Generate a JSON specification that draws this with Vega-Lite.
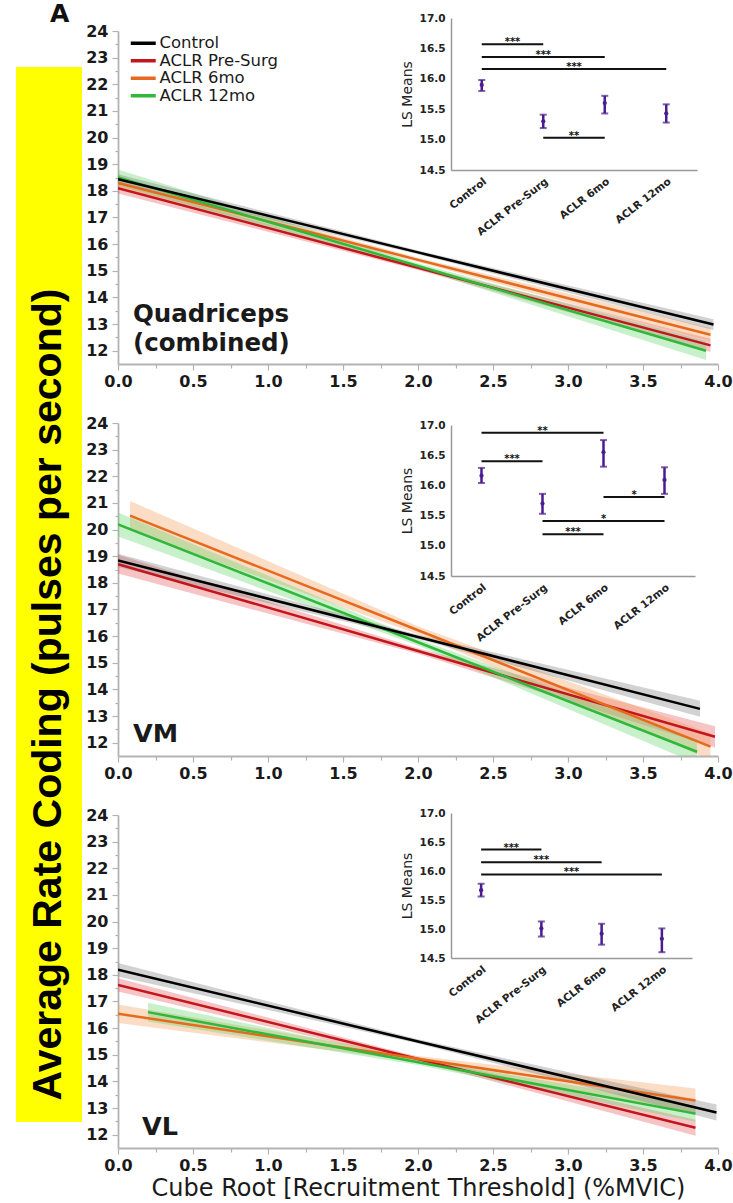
{
  "$schema": "https://vega.github.io/schema/vega-lite/v6.json",
  "background": "white",
  "padding": {"left": 16, "top": 2, "right": 0, "bottom": 0},
  "title": {"text": "A", "anchor": "start", "dx": 34, "offset": -14, "font": "DejaVu Sans", "fontWeight": "bold", "fontSize": 25, "color": "#111111"},
  "config": {"view": {"stroke": null}, "axis": {"grid": false}, "font": "DejaVu Sans"},
  "datasets": {
    "lines": [
      {"panel": "Quad", "group": "ACLR Pre-Surg", "x": 0, "y": 18.10, "lo": 17.90, "hi": 18.30},
      {"panel": "Quad", "group": "ACLR Pre-Surg", "x": 2.0, "y": 15.11, "lo": 15.03, "hi": 15.19},
      {"panel": "Quad", "group": "ACLR Pre-Surg", "x": 3.95, "y": 12.20, "lo": 11.95, "hi": 12.45},
      {"panel": "Quad", "group": "ACLR 6mo", "x": 0, "y": 18.30, "lo": 18.10, "hi": 18.50},
      {"panel": "Quad", "group": "ACLR 6mo", "x": 2.0, "y": 15.41, "lo": 15.33, "hi": 15.49},
      {"panel": "Quad", "group": "ACLR 6mo", "x": 3.95, "y": 12.60, "lo": 12.35, "hi": 12.85},
      {"panel": "Quad", "group": "ACLR 12mo", "x": 0, "y": 18.50, "lo": 18.20, "hi": 18.80},
      {"panel": "Quad", "group": "ACLR 12mo", "x": 2.0, "y": 15.18, "lo": 15.08, "hi": 15.28},
      {"panel": "Quad", "group": "ACLR 12mo", "x": 3.92, "y": 12.00, "lo": 11.65, "hi": 12.35},
      {"panel": "Quad", "group": "Control", "x": 0, "y": 18.44, "lo": 18.26, "hi": 18.62},
      {"panel": "Quad", "group": "Control", "x": 2.0, "y": 15.69, "lo": 15.62, "hi": 15.76},
      {"panel": "Quad", "group": "Control", "x": 3.97, "y": 12.98, "lo": 12.78, "hi": 13.18},

      {"panel": "VM", "group": "ACLR Pre-Surg", "x": 0, "y": 18.70, "lo": 18.35, "hi": 19.05},
      {"panel": "VM", "group": "ACLR Pre-Surg", "x": 2.0, "y": 15.44, "lo": 15.34, "hi": 15.54},
      {"panel": "VM", "group": "ACLR Pre-Surg", "x": 3.98, "y": 12.22, "lo": 11.82, "hi": 12.62},
      {"panel": "VM", "group": "ACLR 6mo", "x": 0.08, "y": 20.52, "lo": 19.97, "hi": 21.07},
      {"panel": "VM", "group": "ACLR 6mo", "x": 2.0, "y": 16.22, "lo": 16.07, "hi": 16.37},
      {"panel": "VM", "group": "ACLR 6mo", "x": 3.95, "y": 11.85, "lo": 11.35, "hi": 12.35},
      {"panel": "VM", "group": "ACLR 12mo", "x": 0, "y": 20.19, "lo": 19.74, "hi": 20.64},
      {"panel": "VM", "group": "ACLR 12mo", "x": 2.0, "y": 15.77, "lo": 15.65, "hi": 15.89},
      {"panel": "VM", "group": "ACLR 12mo", "x": 3.86, "y": 11.66, "lo": 11.21, "hi": 12.11},
      {"panel": "VM", "group": "Control", "x": 0, "y": 18.84, "lo": 18.59, "hi": 19.09},
      {"panel": "VM", "group": "Control", "x": 2.0, "y": 15.97, "lo": 15.89, "hi": 16.05},
      {"panel": "VM", "group": "Control", "x": 3.88, "y": 13.27, "lo": 12.97, "hi": 13.57},

      {"panel": "VL", "group": "ACLR Pre-Surg", "x": 0, "y": 17.62, "lo": 17.37, "hi": 17.87},
      {"panel": "VL", "group": "ACLR Pre-Surg", "x": 2.0, "y": 14.84, "lo": 14.76, "hi": 14.92},
      {"panel": "VL", "group": "ACLR Pre-Surg", "x": 3.85, "y": 12.26, "lo": 11.96, "hi": 12.56},
      {"panel": "VL", "group": "ACLR 6mo", "x": 0, "y": 16.54, "lo": 16.19, "hi": 16.89},
      {"panel": "VL", "group": "ACLR 6mo", "x": 2.0, "y": 14.85, "lo": 14.75, "hi": 14.95},
      {"panel": "VL", "group": "ACLR 6mo", "x": 3.85, "y": 13.28, "lo": 12.83, "hi": 13.73},
      {"panel": "VL", "group": "ACLR 12mo", "x": 0.2, "y": 16.60, "lo": 16.25, "hi": 16.95},
      {"panel": "VL", "group": "ACLR 12mo", "x": 2.0, "y": 14.72, "lo": 14.62, "hi": 14.82},
      {"panel": "VL", "group": "ACLR 12mo", "x": 3.85, "y": 12.79, "lo": 12.49, "hi": 13.09},
      {"panel": "VL", "group": "Control", "x": 0, "y": 18.19, "lo": 17.94, "hi": 18.44},
      {"panel": "VL", "group": "Control", "x": 2.0, "y": 15.50, "lo": 15.42, "hi": 15.58},
      {"panel": "VL", "group": "Control", "x": 3.99, "y": 12.83, "lo": 12.53, "hi": 13.13}
    ],
    "means": [
      {"panel": "Quad", "group": "Control", "idx": 0, "mean": 15.90, "lo": 15.80, "hi": 15.98},
      {"panel": "Quad", "group": "ACLR Pre-Surg", "idx": 1, "mean": 15.30, "lo": 15.19, "hi": 15.41},
      {"panel": "Quad", "group": "ACLR 6mo", "idx": 2, "mean": 15.60, "lo": 15.43, "hi": 15.72},
      {"panel": "Quad", "group": "ACLR 12mo", "idx": 3, "mean": 15.43, "lo": 15.28, "hi": 15.58},
      {"panel": "VM", "group": "Control", "idx": 0, "mean": 16.16, "lo": 16.04, "hi": 16.29},
      {"panel": "VM", "group": "ACLR Pre-Surg", "idx": 1, "mean": 15.70, "lo": 15.53, "hi": 15.86},
      {"panel": "VM", "group": "ACLR 6mo", "idx": 2, "mean": 16.55, "lo": 16.31, "hi": 16.75},
      {"panel": "VM", "group": "ACLR 12mo", "idx": 3, "mean": 16.09, "lo": 15.86, "hi": 16.30},
      {"panel": "VL", "group": "Control", "idx": 0, "mean": 15.67, "lo": 15.56, "hi": 15.78},
      {"panel": "VL", "group": "ACLR Pre-Surg", "idx": 1, "mean": 15.01, "lo": 14.87, "hi": 15.13},
      {"panel": "VL", "group": "ACLR 6mo", "idx": 2, "mean": 14.92, "lo": 14.73, "hi": 15.09},
      {"panel": "VL", "group": "ACLR 12mo", "idx": 3, "mean": 14.83, "lo": 14.60, "hi": 15.01}
    ],
    "sig": [
      {"panel": "Quad", "from": 0, "to": 1, "mid": 0.5, "h": 16.57, "stars": "***"},
      {"panel": "Quad", "from": 0, "to": 2, "mid": 1.0, "h": 16.36, "stars": "***"},
      {"panel": "Quad", "from": 0, "to": 3, "mid": 1.5, "h": 16.16, "stars": "***"},
      {"panel": "Quad", "from": 1, "to": 2, "mid": 1.5, "h": 15.03, "stars": "**"},
      {"panel": "VM", "from": 0, "to": 2, "mid": 1.0, "h": 16.87, "stars": "**"},
      {"panel": "VM", "from": 0, "to": 1, "mid": 0.5, "h": 16.40, "stars": "***"},
      {"panel": "VM", "from": 2, "to": 3, "mid": 2.5, "h": 15.81, "stars": "*"},
      {"panel": "VM", "from": 1, "to": 3, "mid": 2.0, "h": 15.41, "stars": "*"},
      {"panel": "VM", "from": 1, "to": 2, "mid": 1.5, "h": 15.19, "stars": "***"},
      {"panel": "VL", "from": 0, "to": 1, "mid": 0.5, "h": 16.37, "stars": "***"},
      {"panel": "VL", "from": 0, "to": 2, "mid": 1.0, "h": 16.15, "stars": "***"},
      {"panel": "VL", "from": 0, "to": 3, "mid": 1.5, "h": 15.94, "stars": "***"}
    ]
  },
  "bounds": "flush",
  "spacing": 102,
  "hconcat": [
    {
      "bounds": "flush",
      "spacing": 0,
      "vconcat": [
        {
          "width": 66, "height": 36,
          "data": {"values": [{"t": ""}]},
          "mark": {"type": "text"},
          "encoding": {"text": {"field": "t"}}
        },
        {
          "width": 66, "height": 1055,
          "view": {"fill": "#ffff00", "stroke": null},
          "data": {"values": [{"t": "Average Rate Coding (pulses per second)"}]},
          "mark": {"type": "text", "angle": 270, "font": "Liberation Sans", "fontWeight": "bold", "fontSize": 41, "color": "#000000", "dx": -100},
          "encoding": {"text": {"field": "t"}}
        }
      ]
    },
    {
      "bounds": "flush",
      "spacing": 59,
      "resolve": {"scale": {"stroke": "independent", "fill": "independent", "strokeWidth": "independent"}},
      "vconcat": [
        {
          "width": 600, "height": 333,
          "resolve": {"scale": {"x": "independent", "y": "independent"}},
          "layer": [
            {
              "layer": [
                {
                  "data": {"name": "lines"},
                  "transform": [{"filter": "datum.panel == 'Quad'"}],
                  "mark": {"type": "area", "clip": true, "opacity": 0.35},
                  "encoding": {
                    "x": {"field": "x", "type": "quantitative", "scale": {"domain": [0, 4], "nice": false, "zero": false},
                      "axis": {"values": [0,0.25,0.5,0.75,1,1.25,1.5,1.75,2,2.25,2.5,2.75,3,3.25,3.5,3.75,4], "tickCount": 100, "labelExpr": "datum.value % 0.5 == 0 ? format(datum.value, '.1f') : ''", "tickSize": {"condition": {"test": "datum.value % 0.5 != 0", "value": 4}, "value": 6}, "tickColor": "#b3b3b3", "tickWidth": 1.2, "domainColor": "#b3b3b3", "domainWidth": 1.8, "labelFont": "DejaVu Sans", "labelFontWeight": "bold", "labelFontSize": 16, "labelColor": "#1a1a1a", "labelPadding": 3, "labelFlush": false, "labelOverlap": false, "title": null}},
                    "y": {"field": "lo", "type": "quantitative", "scale": {"domain": [11.5, 24], "nice": false, "zero": false},
                      "axis": {"values": [12,12.5,13,13.5,14,14.5,15,15.5,16,16.5,17,17.5,18,18.5,19,19.5,20,20.5,21,21.5,22,22.5,23,23.5,24], "tickCount": 100, "labelExpr": "datum.value % 1 == 0 ? format(datum.value, 'd') : ''", "tickSize": {"condition": {"test": "datum.value % 1 != 0", "value": 3}, "value": 6}, "tickColor": "#b3b3b3", "tickWidth": 1.2, "domainColor": "#b3b3b3", "domainWidth": 1.8, "labelFont": "DejaVu Sans", "labelFontWeight": "bold", "labelFontSize": 16, "labelColor": "#1a1a1a", "labelPadding": 4, "labelOverlap": false, "title": null}},
                    "y2": {"field": "hi"},
                    "fill": {"field": "group", "type": "nominal", "scale": {"domain": ["ACLR 12mo", "ACLR 6mo", "ACLR Pre-Surg", "Control"], "range": ["#5fd46a", "#f39a55", "#e8555a", "#7f7f7f"]}, "legend": null}
                  }
                },
                {
                  "data": {"name": "lines"},
                  "transform": [{"filter": "datum.panel == 'Quad'"}],
                  "mark": {"type": "line", "clip": true},
                  "encoding": {
                    "x": {"field": "x", "type": "quantitative", "scale": {"domain": [0, 4], "nice": false, "zero": false}},
                    "y": {"field": "y", "type": "quantitative", "scale": {"domain": [11.5, 24], "nice": false, "zero": false}},
                    "stroke": {"field": "group", "type": "nominal", "scale": {"domain": ["Control", "ACLR Pre-Surg", "ACLR 6mo", "ACLR 12mo"], "range": ["#000000", "#c3161c", "#e66a1e", "#2fb83a"]},
                      "legend": {"orient": "none", "legendX": 17, "legendY": 4, "title": null, "symbolType": "M-2,0H2", "symbolSize": 156, "symbolStrokeWidth": 3.5, "labelFont": "DejaVu Sans", "labelFontSize": 16.5, "labelColor": "#1a1a1a", "rowPadding": 0.5, "padding": 0, "labelOffset": 8}},
                    "strokeWidth": {"field": "group", "type": "nominal", "scale": {"domain": ["ACLR Pre-Surg", "ACLR 6mo", "ACLR 12mo", "Control"], "range": [2.5, 2.5, 2.5, 4.5]}, "legend": null}
                  }
                },
                {
                  "data": {"values": [{"label": ["Quadriceps", "(combined)"]}]},
                  "mark": {"type": "text", "align": "left", "baseline": "alphabetic", "font": "DejaVu Sans", "fontWeight": "bold", "fontSize": 24.5, "lineHeight": 29, "color": "#1a1a1a"},
                  "encoding": {
                    "x": {"datum": 0.1, "type": "quantitative", "scale": {"domain": [0, 4], "nice": false, "zero": false}},
                    "y": {"datum": 13.08, "type": "quantitative", "scale": {"domain": [11.5, 24], "nice": false, "zero": false}},
                    "text": {"field": "label"}
                  }
                }
              ]
            },
            {
              "layer": [
                {
                  "data": {"name": "means"},
                  "transform": [{"filter": "datum.panel == 'Quad'"}],
                  "mark": {"type": "rule", "color": "#4b1c8f", "strokeWidth": 2.5},
                  "encoding": {
                    "x": {"field": "idx", "type": "quantitative", "scale": {"domain": [-0.5, 3.5], "range": [333, 579], "nice": false, "zero": false},
                      "axis": {"orient": "bottom", "offset": -194, "values": [0, 1, 2, 3], "tickCount": 100, "labelExpr": "['Control','ACLR Pre-Surg','ACLR 6mo','ACLR 12mo'][datum.value]", "labelAngle": -38, "labelFont": "DejaVu Sans", "labelFontWeight": "bold", "labelFontSize": 10.5, "labelColor": "#222222", "ticks": false, "labelPadding": 6, "domainColor": "#999999", "domainWidth": 1.5, "labelFlush": false, "labelOverlap": false, "title": null}},
                    "y": {"field": "lo", "type": "quantitative", "scale": {"domain": [14.5, 17], "range": [139, -13], "nice": false, "zero": false},
                      "axis": {"orient": "left", "offset": -333, "values": [14.5, 15, 15.5, 16, 16.5, 17], "tickCount": 100, "format": ".1f", "ticks": false, "labelPadding": 6, "labelFont": "DejaVu Sans", "labelFontWeight": "bold", "labelFontSize": 10.5, "labelColor": "#222222", "domainColor": "#999999", "domainWidth": 1.5, "labelOverlap": false, "title": "LS Means", "titleFont": "DejaVu Sans", "titleFontWeight": "normal", "titleFontSize": 14, "titleColor": "#222222", "titlePadding": 5}},
                    "y2": {"field": "hi"}
                  }
                },
                {
                  "data": {"name": "means"},
                  "transform": [{"filter": "datum.panel == 'Quad'"}],
                  "mark": {"type": "tick", "orient": "horizontal", "color": "#4b1c8f", "size": 7, "thickness": 2},
                  "encoding": {
                    "x": {"field": "idx", "type": "quantitative", "scale": {"domain": [-0.5, 3.5], "range": [333, 579], "nice": false, "zero": false}},
                    "y": {"field": "lo", "type": "quantitative", "scale": {"domain": [14.5, 17], "range": [139, -13], "nice": false, "zero": false}}
                  }
                },
                {
                  "data": {"name": "means"},
                  "transform": [{"filter": "datum.panel == 'Quad'"}],
                  "mark": {"type": "tick", "orient": "horizontal", "color": "#4b1c8f", "size": 7, "thickness": 2},
                  "encoding": {
                    "x": {"field": "idx", "type": "quantitative", "scale": {"domain": [-0.5, 3.5], "range": [333, 579], "nice": false, "zero": false}},
                    "y": {"field": "hi", "type": "quantitative", "scale": {"domain": [14.5, 17], "range": [139, -13], "nice": false, "zero": false}}
                  }
                },
                {
                  "data": {"name": "means"},
                  "transform": [{"filter": "datum.panel == 'Quad'"}],
                  "mark": {"type": "point", "filled": true, "size": 18, "color": "#4b1c8f", "opacity": 1},
                  "encoding": {
                    "x": {"field": "idx", "type": "quantitative", "scale": {"domain": [-0.5, 3.5], "range": [333, 579], "nice": false, "zero": false}},
                    "y": {"field": "mean", "type": "quantitative", "scale": {"domain": [14.5, 17], "range": [139, -13], "nice": false, "zero": false}}
                  }
                },
                {
                  "data": {"name": "sig"},
                  "transform": [{"filter": "datum.panel == 'Quad'"}],
                  "mark": {"type": "rule", "color": "#111111", "strokeWidth": 2},
                  "encoding": {
                    "x": {"field": "from", "type": "quantitative", "scale": {"domain": [-0.5, 3.5], "range": [333, 579], "nice": false, "zero": false}},
                    "x2": {"field": "to"},
                    "y": {"field": "h", "type": "quantitative", "scale": {"domain": [14.5, 17], "range": [139, -13], "nice": false, "zero": false}}
                  }
                },
                {
                  "data": {"name": "sig"},
                  "transform": [{"filter": "datum.panel == 'Quad'"}],
                  "mark": {"type": "text", "font": "DejaVu Sans", "fontWeight": "bold", "fontSize": 10, "baseline": "alphabetic", "dy": 1, "color": "#111111"},
                  "encoding": {
                    "x": {"field": "mid", "type": "quantitative", "scale": {"domain": [-0.5, 3.5], "range": [333, 579], "nice": false, "zero": false}},
                    "y": {"field": "h", "type": "quantitative", "scale": {"domain": [14.5, 17], "range": [139, -13], "nice": false, "zero": false}},
                    "text": {"field": "stars"}
                  }
                }
              ]
            }
          ]
        },
        {
          "width": 600, "height": 333,
          "resolve": {"scale": {"x": "independent", "y": "independent"}},
          "layer": [
            {
              "layer": [
                {
                  "data": {"name": "lines"},
                  "transform": [{"filter": "datum.panel == 'VM'"}],
                  "mark": {"type": "area", "clip": true, "opacity": 0.35},
                  "encoding": {
                    "x": {"field": "x", "type": "quantitative", "scale": {"domain": [0, 4], "nice": false, "zero": false},
                      "axis": {"values": [0,0.25,0.5,0.75,1,1.25,1.5,1.75,2,2.25,2.5,2.75,3,3.25,3.5,3.75,4], "tickCount": 100, "labelExpr": "datum.value % 0.5 == 0 ? format(datum.value, '.1f') : ''", "tickSize": {"condition": {"test": "datum.value % 0.5 != 0", "value": 4}, "value": 6}, "tickColor": "#b3b3b3", "tickWidth": 1.2, "domainColor": "#b3b3b3", "domainWidth": 1.8, "labelFont": "DejaVu Sans", "labelFontWeight": "bold", "labelFontSize": 16, "labelColor": "#1a1a1a", "labelPadding": 3, "labelFlush": false, "labelOverlap": false, "title": null}},
                    "y": {"field": "lo", "type": "quantitative", "scale": {"domain": [11.5, 24], "nice": false, "zero": false},
                      "axis": {"values": [12,12.5,13,13.5,14,14.5,15,15.5,16,16.5,17,17.5,18,18.5,19,19.5,20,20.5,21,21.5,22,22.5,23,23.5,24], "tickCount": 100, "labelExpr": "datum.value % 1 == 0 ? format(datum.value, 'd') : ''", "tickSize": {"condition": {"test": "datum.value % 1 != 0", "value": 3}, "value": 6}, "tickColor": "#b3b3b3", "tickWidth": 1.2, "domainColor": "#b3b3b3", "domainWidth": 1.8, "labelFont": "DejaVu Sans", "labelFontWeight": "bold", "labelFontSize": 16, "labelColor": "#1a1a1a", "labelPadding": 4, "labelOverlap": false, "title": null}},
                    "y2": {"field": "hi"},
                    "fill": {"field": "group", "type": "nominal", "scale": {"domain": ["ACLR 12mo", "ACLR 6mo", "ACLR Pre-Surg", "Control"], "range": ["#5fd46a", "#f39a55", "#e8555a", "#7f7f7f"]}, "legend": null}
                  }
                },
                {
                  "data": {"name": "lines"},
                  "transform": [{"filter": "datum.panel == 'VM'"}],
                  "mark": {"type": "line", "clip": true},
                  "encoding": {
                    "x": {"field": "x", "type": "quantitative", "scale": {"domain": [0, 4], "nice": false, "zero": false}},
                    "y": {"field": "y", "type": "quantitative", "scale": {"domain": [11.5, 24], "nice": false, "zero": false}},
                    "stroke": {"field": "group", "type": "nominal", "scale": {"domain": ["Control", "ACLR Pre-Surg", "ACLR 6mo", "ACLR 12mo"], "range": ["#000000", "#c3161c", "#e66a1e", "#2fb83a"]}, "legend": null},
                    "strokeWidth": {"field": "group", "type": "nominal", "scale": {"domain": ["ACLR Pre-Surg", "ACLR 6mo", "ACLR 12mo", "Control"], "range": [2.5, 2.5, 2.5, 4.5]}, "legend": null}
                  }
                },
                {
                  "data": {"values": [{"label": "VM"}]},
                  "mark": {"type": "text", "align": "left", "baseline": "alphabetic", "font": "DejaVu Sans", "fontWeight": "bold", "fontSize": 25.5, "color": "#1a1a1a"},
                  "encoding": {
                    "x": {"datum": 0.1, "type": "quantitative", "scale": {"domain": [0, 4], "nice": false, "zero": false}},
                    "y": {"datum": 12.03, "type": "quantitative", "scale": {"domain": [11.5, 24], "nice": false, "zero": false}},
                    "text": {"field": "label"}
                  }
                }
              ]
            },
            {
              "layer": [
                {
                  "data": {"name": "means"},
                  "transform": [{"filter": "datum.panel == 'VM'"}],
                  "mark": {"type": "rule", "color": "#4b1c8f", "strokeWidth": 2.5},
                  "encoding": {
                    "x": {"field": "idx", "type": "quantitative", "scale": {"domain": [-0.5, 3.5], "range": [333, 577], "nice": false, "zero": false},
                      "axis": {"orient": "bottom", "offset": -180, "values": [0, 1, 2, 3], "tickCount": 100, "labelExpr": "['Control','ACLR Pre-Surg','ACLR 6mo','ACLR 12mo'][datum.value]", "labelAngle": -38, "labelFont": "DejaVu Sans", "labelFontWeight": "bold", "labelFontSize": 10.5, "labelColor": "#222222", "ticks": false, "labelPadding": 6, "domainColor": "#999999", "domainWidth": 1.5, "labelFlush": false, "labelOverlap": false, "title": null}},
                    "y": {"field": "lo", "type": "quantitative", "scale": {"domain": [14.5, 17], "range": [153, 2], "nice": false, "zero": false},
                      "axis": {"orient": "left", "offset": -333, "values": [14.5, 15, 15.5, 16, 16.5, 17], "tickCount": 100, "format": ".1f", "ticks": false, "labelPadding": 6, "labelFont": "DejaVu Sans", "labelFontWeight": "bold", "labelFontSize": 10.5, "labelColor": "#222222", "domainColor": "#999999", "domainWidth": 1.5, "labelOverlap": false, "title": "LS Means", "titleFont": "DejaVu Sans", "titleFontWeight": "normal", "titleFontSize": 14, "titleColor": "#222222", "titlePadding": 5}},
                    "y2": {"field": "hi"}
                  }
                },
                {
                  "data": {"name": "means"},
                  "transform": [{"filter": "datum.panel == 'VM'"}],
                  "mark": {"type": "tick", "orient": "horizontal", "color": "#4b1c8f", "size": 7, "thickness": 2},
                  "encoding": {
                    "x": {"field": "idx", "type": "quantitative", "scale": {"domain": [-0.5, 3.5], "range": [333, 577], "nice": false, "zero": false}},
                    "y": {"field": "lo", "type": "quantitative", "scale": {"domain": [14.5, 17], "range": [153, 2], "nice": false, "zero": false}}
                  }
                },
                {
                  "data": {"name": "means"},
                  "transform": [{"filter": "datum.panel == 'VM'"}],
                  "mark": {"type": "tick", "orient": "horizontal", "color": "#4b1c8f", "size": 7, "thickness": 2},
                  "encoding": {
                    "x": {"field": "idx", "type": "quantitative", "scale": {"domain": [-0.5, 3.5], "range": [333, 577], "nice": false, "zero": false}},
                    "y": {"field": "hi", "type": "quantitative", "scale": {"domain": [14.5, 17], "range": [153, 2], "nice": false, "zero": false}}
                  }
                },
                {
                  "data": {"name": "means"},
                  "transform": [{"filter": "datum.panel == 'VM'"}],
                  "mark": {"type": "point", "filled": true, "size": 18, "color": "#4b1c8f", "opacity": 1},
                  "encoding": {
                    "x": {"field": "idx", "type": "quantitative", "scale": {"domain": [-0.5, 3.5], "range": [333, 577], "nice": false, "zero": false}},
                    "y": {"field": "mean", "type": "quantitative", "scale": {"domain": [14.5, 17], "range": [153, 2], "nice": false, "zero": false}}
                  }
                },
                {
                  "data": {"name": "sig"},
                  "transform": [{"filter": "datum.panel == 'VM'"}],
                  "mark": {"type": "rule", "color": "#111111", "strokeWidth": 2},
                  "encoding": {
                    "x": {"field": "from", "type": "quantitative", "scale": {"domain": [-0.5, 3.5], "range": [333, 577], "nice": false, "zero": false}},
                    "x2": {"field": "to"},
                    "y": {"field": "h", "type": "quantitative", "scale": {"domain": [14.5, 17], "range": [153, 2], "nice": false, "zero": false}}
                  }
                },
                {
                  "data": {"name": "sig"},
                  "transform": [{"filter": "datum.panel == 'VM'"}],
                  "mark": {"type": "text", "font": "DejaVu Sans", "fontWeight": "bold", "fontSize": 10, "baseline": "alphabetic", "dy": 1, "color": "#111111"},
                  "encoding": {
                    "x": {"field": "mid", "type": "quantitative", "scale": {"domain": [-0.5, 3.5], "range": [333, 577], "nice": false, "zero": false}},
                    "y": {"field": "h", "type": "quantitative", "scale": {"domain": [14.5, 17], "range": [153, 2], "nice": false, "zero": false}},
                    "text": {"field": "stars"}
                  }
                }
              ]
            }
          ]
        },
        {
          "width": 600, "height": 333,
          "resolve": {"scale": {"x": "independent", "y": "independent"}},
          "layer": [
            {
              "layer": [
                {
                  "data": {"name": "lines"},
                  "transform": [{"filter": "datum.panel == 'VL'"}],
                  "mark": {"type": "area", "clip": true, "opacity": 0.35},
                  "encoding": {
                    "x": {"field": "x", "type": "quantitative", "scale": {"domain": [0, 4], "nice": false, "zero": false},
                      "axis": {"values": [0,0.25,0.5,0.75,1,1.25,1.5,1.75,2,2.25,2.5,2.75,3,3.25,3.5,3.75,4], "tickCount": 100, "labelExpr": "datum.value % 0.5 == 0 ? format(datum.value, '.1f') : ''", "tickSize": {"condition": {"test": "datum.value % 0.5 != 0", "value": 4}, "value": 6}, "tickColor": "#b3b3b3", "tickWidth": 1.2, "domainColor": "#b3b3b3", "domainWidth": 1.8, "labelFont": "DejaVu Sans", "labelFontWeight": "bold", "labelFontSize": 16, "labelColor": "#1a1a1a", "labelPadding": 3, "labelFlush": false, "labelOverlap": false,
                        "title": "Cube Root [Recruitment Threshold] (%MVIC)", "titleFont": "DejaVu Sans", "titleFontWeight": "normal", "titleFontSize": 24, "titleColor": "#1a1a1a", "titlePadding": 3}},
                    "y": {"field": "lo", "type": "quantitative", "scale": {"domain": [11.5, 24], "nice": false, "zero": false},
                      "axis": {"values": [12,12.5,13,13.5,14,14.5,15,15.5,16,16.5,17,17.5,18,18.5,19,19.5,20,20.5,21,21.5,22,22.5,23,23.5,24], "tickCount": 100, "labelExpr": "datum.value % 1 == 0 ? format(datum.value, 'd') : ''", "tickSize": {"condition": {"test": "datum.value % 1 != 0", "value": 3}, "value": 6}, "tickColor": "#b3b3b3", "tickWidth": 1.2, "domainColor": "#b3b3b3", "domainWidth": 1.8, "labelFont": "DejaVu Sans", "labelFontWeight": "bold", "labelFontSize": 16, "labelColor": "#1a1a1a", "labelPadding": 4, "labelOverlap": false, "title": null}},
                    "y2": {"field": "hi"},
                    "fill": {"field": "group", "type": "nominal", "scale": {"domain": ["ACLR 12mo", "ACLR 6mo", "ACLR Pre-Surg", "Control"], "range": ["#5fd46a", "#f39a55", "#e8555a", "#7f7f7f"]}, "legend": null}
                  }
                },
                {
                  "data": {"name": "lines"},
                  "transform": [{"filter": "datum.panel == 'VL'"}],
                  "mark": {"type": "line", "clip": true},
                  "encoding": {
                    "x": {"field": "x", "type": "quantitative", "scale": {"domain": [0, 4], "nice": false, "zero": false}},
                    "y": {"field": "y", "type": "quantitative", "scale": {"domain": [11.5, 24], "nice": false, "zero": false}},
                    "stroke": {"field": "group", "type": "nominal", "scale": {"domain": ["Control", "ACLR Pre-Surg", "ACLR 6mo", "ACLR 12mo"], "range": ["#000000", "#c3161c", "#e66a1e", "#2fb83a"]}, "legend": null},
                    "strokeWidth": {"field": "group", "type": "nominal", "scale": {"domain": ["ACLR Pre-Surg", "ACLR 6mo", "ACLR 12mo", "Control"], "range": [2.5, 2.5, 2.5, 4.5]}, "legend": null}
                  }
                },
                {
                  "data": {"values": [{"label": "VL"}]},
                  "mark": {"type": "text", "align": "left", "baseline": "alphabetic", "font": "DejaVu Sans", "fontWeight": "bold", "fontSize": 25.5, "color": "#1a1a1a"},
                  "encoding": {
                    "x": {"datum": 0.16, "type": "quantitative", "scale": {"domain": [0, 4], "nice": false, "zero": false}},
                    "y": {"datum": 12.0, "type": "quantitative", "scale": {"domain": [11.5, 24], "nice": false, "zero": false}},
                    "text": {"field": "label"}
                  }
                }
              ]
            },
            {
              "layer": [
                {
                  "data": {"name": "means"},
                  "transform": [{"filter": "datum.panel == 'VL'"}],
                  "mark": {"type": "rule", "color": "#4b1c8f", "strokeWidth": 2.5},
                  "encoding": {
                    "x": {"field": "idx", "type": "quantitative", "scale": {"domain": [-0.5, 3.5], "range": [333, 574], "nice": false, "zero": false},
                      "axis": {"orient": "bottom", "offset": -190, "values": [0, 1, 2, 3], "tickCount": 100, "labelExpr": "['Control','ACLR Pre-Surg','ACLR 6mo','ACLR 12mo'][datum.value]", "labelAngle": -38, "labelFont": "DejaVu Sans", "labelFontWeight": "bold", "labelFontSize": 10.5, "labelColor": "#222222", "ticks": false, "labelPadding": 6, "domainColor": "#999999", "domainWidth": 1.5, "labelFlush": false, "labelOverlap": false, "title": null}},
                    "y": {"field": "lo", "type": "quantitative", "scale": {"domain": [14.5, 17], "range": [143, -2], "nice": false, "zero": false},
                      "axis": {"orient": "left", "offset": -333, "values": [14.5, 15, 15.5, 16, 16.5, 17], "tickCount": 100, "format": ".1f", "ticks": false, "labelPadding": 6, "labelFont": "DejaVu Sans", "labelFontWeight": "bold", "labelFontSize": 10.5, "labelColor": "#222222", "domainColor": "#999999", "domainWidth": 1.5, "labelOverlap": false, "title": "LS Means", "titleFont": "DejaVu Sans", "titleFontWeight": "normal", "titleFontSize": 14, "titleColor": "#222222", "titlePadding": 5}},
                    "y2": {"field": "hi"}
                  }
                },
                {
                  "data": {"name": "means"},
                  "transform": [{"filter": "datum.panel == 'VL'"}],
                  "mark": {"type": "tick", "orient": "horizontal", "color": "#4b1c8f", "size": 7, "thickness": 2},
                  "encoding": {
                    "x": {"field": "idx", "type": "quantitative", "scale": {"domain": [-0.5, 3.5], "range": [333, 574], "nice": false, "zero": false}},
                    "y": {"field": "lo", "type": "quantitative", "scale": {"domain": [14.5, 17], "range": [143, -2], "nice": false, "zero": false}}
                  }
                },
                {
                  "data": {"name": "means"},
                  "transform": [{"filter": "datum.panel == 'VL'"}],
                  "mark": {"type": "tick", "orient": "horizontal", "color": "#4b1c8f", "size": 7, "thickness": 2},
                  "encoding": {
                    "x": {"field": "idx", "type": "quantitative", "scale": {"domain": [-0.5, 3.5], "range": [333, 574], "nice": false, "zero": false}},
                    "y": {"field": "hi", "type": "quantitative", "scale": {"domain": [14.5, 17], "range": [143, -2], "nice": false, "zero": false}}
                  }
                },
                {
                  "data": {"name": "means"},
                  "transform": [{"filter": "datum.panel == 'VL'"}],
                  "mark": {"type": "point", "filled": true, "size": 18, "color": "#4b1c8f", "opacity": 1},
                  "encoding": {
                    "x": {"field": "idx", "type": "quantitative", "scale": {"domain": [-0.5, 3.5], "range": [333, 574], "nice": false, "zero": false}},
                    "y": {"field": "mean", "type": "quantitative", "scale": {"domain": [14.5, 17], "range": [143, -2], "nice": false, "zero": false}}
                  }
                },
                {
                  "data": {"name": "sig"},
                  "transform": [{"filter": "datum.panel == 'VL'"}],
                  "mark": {"type": "rule", "color": "#111111", "strokeWidth": 2},
                  "encoding": {
                    "x": {"field": "from", "type": "quantitative", "scale": {"domain": [-0.5, 3.5], "range": [333, 574], "nice": false, "zero": false}},
                    "x2": {"field": "to"},
                    "y": {"field": "h", "type": "quantitative", "scale": {"domain": [14.5, 17], "range": [143, -2], "nice": false, "zero": false}}
                  }
                },
                {
                  "data": {"name": "sig"},
                  "transform": [{"filter": "datum.panel == 'VL'"}],
                  "mark": {"type": "text", "font": "DejaVu Sans", "fontWeight": "bold", "fontSize": 10, "baseline": "alphabetic", "dy": 1, "color": "#111111"},
                  "encoding": {
                    "x": {"field": "mid", "type": "quantitative", "scale": {"domain": [-0.5, 3.5], "range": [333, 574], "nice": false, "zero": false}},
                    "y": {"field": "h", "type": "quantitative", "scale": {"domain": [14.5, 17], "range": [143, -2], "nice": false, "zero": false}},
                    "text": {"field": "stars"}
                  }
                }
              ]
            }
          ]
        }
      ]
    }
  ]
}
